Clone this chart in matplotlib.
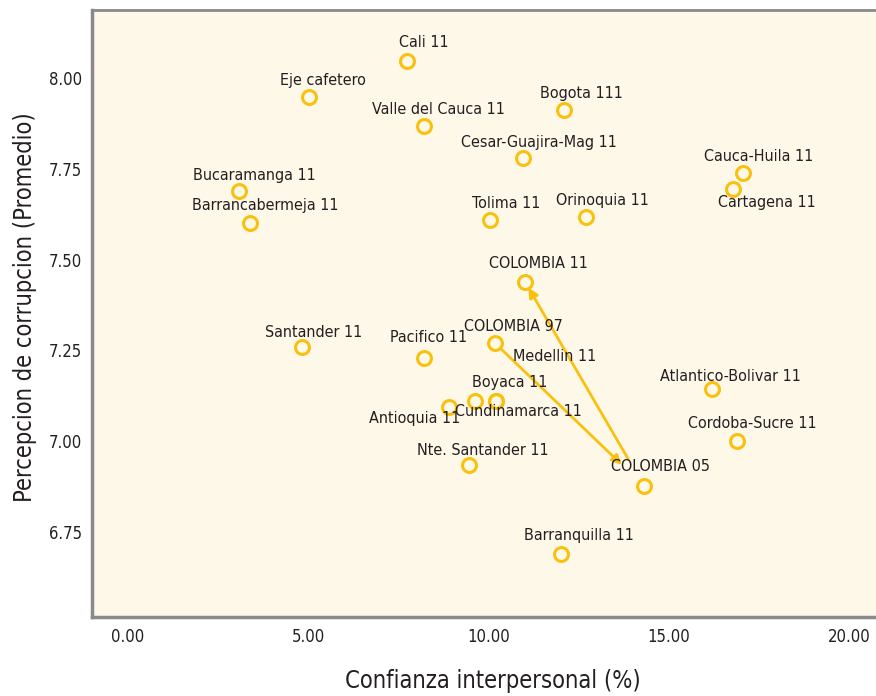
import matplotlib
matplotlib.use("Agg")
import matplotlib.pyplot as plt
from matplotlib import font_manager

names = ["Cali 11", "Eje cafetero", "Valle del Cauca 11", "Bogota 111",
         "Cesar-Guajira-Mag 11", "Cauca-Huila 11", "Cartagena 11",
         "Bucaramanga 11", "Barrancabermeja 11", "Tolima 11", "Orinoquia 11",
         "COLOMBIA 11", "Santander 11", "Pacifico 11", "COLOMBIA 97",
         "Medellin 11", "Boyaca 11", "Cundinamarca 11", "Antioquia 11",
         "Nte. Santander 11", "COLOMBIA 05", "Barranquilla 11",
         "Atlantico-Bolivar 11", "Cordoba-Sucre 11"]
confianza = [7.74, 5.01, 8.21, 12.10, 10.95, 17.07, 16.79, 3.08, 3.39, 10.04,
             12.71, 11.01, 4.83, 8.21, 10.18, 10.21, 9.63, 10.21, 8.90, 9.46,
             14.31, 12.01, 16.20, 16.89]
corrupcion = [8.047, 7.948, 7.868, 7.911, 7.779, 7.739, 7.693, 7.690, 7.601,
              7.608, 7.616, 7.439, 7.259, 7.229, 7.270, 7.111, 7.111, 7.111,
              7.094, 6.934, 6.877, 6.690, 7.143, 7.001]

xticks = [0, 5, 10, 15, 20]
yticks = [6.75, 7.00, 7.25, 7.50, 7.75, 8.00]

# label offsets in pixels (style)
offsets = [(17, 18), (14, 16), (14, 16), (17, 17), (16, 16), (15, 16), (34, -13),
           (15, 15), (15, 17), (16, 17), (16, 17), (14, 18), (11, 15), (5, 20),
           (18, 17), (59, 44), (35, 18), (22, -11), (-34, -11), (14, 15),
           (17, 19), (18, 18), (18, 13), (15, 17)]

# pick a condensed/narrow font if one is installed
cond = None
for f in font_manager.fontManager.ttflist:
    if ("Narrow" in f.name or "Condensed" in f.name or f.stretch in ("condensed", "semi-condensed")) \
            and f.style == "normal" and f.weight in (400, "normal", "regular", "book"):
        cond = f
        break
if cond is not None:
    font_manager.fontManager.addfont(cond.fname)
    fp = font_manager.FontProperties(fname=cond.fname)
else:
    fp = font_manager.FontProperties(family="DejaVu Sans")

def F(size):
    p = fp.copy()
    p.set_size(size)
    return p

gold = "#F9C10E"
txt = "#231f20"
fig = plt.figure(figsize=(8.76, 6.96), dpi=100)
ax = fig.add_axes([92/876, 1 - 617/696, 1 - 92/876, (617 - 10)/696])
ax.set_facecolor("#FEF8E9")

ax.plot(confianza, corrupcion, linestyle="none", marker="o", markersize=10,
        markerfacecolor="none", markeredgecolor=gold, markeredgewidth=2.2, zorder=3)

for n, x, y, (dx, dy) in zip(names, confianza, corrupcion, offsets):
    ax.annotate(n, (x, y), xytext=(dx, dy), textcoords="offset pixels",
                ha="center", va="center", fontproperties=F(11.5), color=txt, zorder=4)

i97, i05, i11 = names.index("COLOMBIA 97"), names.index("COLOMBIA 05"), names.index("COLOMBIA 11")
ax.annotate("", xy=(confianza[i05], corrupcion[i05]), xytext=(confianza[i97], corrupcion[i97]),
            arrowprops=dict(arrowstyle="-|>", color=gold, lw=2, shrinkA=5, shrinkB=22,
                            mutation_scale=14), zorder=2)
ax.annotate("", xy=(confianza[i11], corrupcion[i11]), xytext=(confianza[i05], corrupcion[i05]),
            arrowprops=dict(arrowstyle="-|>", color=gold, lw=2, shrinkA=22, shrinkB=5,
                            mutation_scale=14), zorder=2)

ax.set_xlim(-1.0, 20.75)
ax.set_ylim(6.516, 8.187)
ax.set_xticks(xticks)
ax.set_xticklabels([f"{v:.2f}" for v in xticks])
ax.set_yticks(yticks)
ax.set_yticklabels([f"{v:.2f}" for v in yticks])
ax.tick_params(length=0, colors=txt, pad=7)
ax.tick_params(axis="x", pad=8)
for lab in ax.get_xticklabels() + ax.get_yticklabels():
    lab.set_fontproperties(F(12))

for s in ["left", "bottom"]:
    ax.spines[s].set_color("#8a8a8a")
    ax.spines[s].set_linewidth(2.5)
ax.spines["top"].set_color("#8a8a8a")
ax.spines["top"].set_linewidth(2)
ax.spines["right"].set_visible(False)

ax.set_xlabel("Confianza interpersonal (%)", fontproperties=F(17), color=txt, va="center")
ax.xaxis.set_label_coords((493 - 92) / 784, (617 - 681) / 607)
ax.set_ylabel("Percepcion de corrupcion (Promedio)", fontproperties=F(17), color=txt, va="center")
ax.yaxis.set_label_coords((25 - 92) / 784, (617 - 307) / 607)

fig.savefig("out.png", dpi=100, facecolor="white")
